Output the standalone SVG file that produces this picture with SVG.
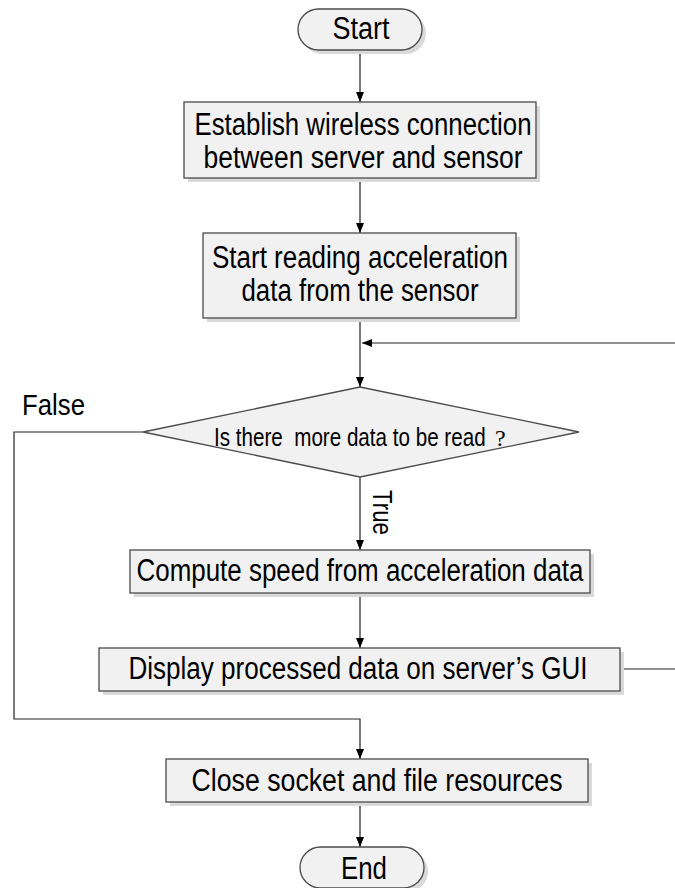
<svg xmlns="http://www.w3.org/2000/svg" width="675" height="888" viewBox="0 0 675 888">
<style>
.shape{fill:#f1f1f1;stroke:#4a4a4a;stroke-width:1.3}
.shadow{fill:#d9d9d9;stroke:none}
.t{font-family:"Liberation Sans",Arial,sans-serif;fill:#000;text-anchor:middle}
.big{font-size:31px}
.dia{font-size:25px}
.conn{fill:none;stroke:#222;stroke-width:1.2}
</style>
<defs>
<marker id="arr" markerUnits="userSpaceOnUse" markerWidth="10" markerHeight="10" refX="10" refY="5" orient="auto" viewBox="0 0 10 10">
<path d="M0,1 L10,5 L0,9 z" fill="#000"/>
</marker>
</defs>
<rect width="675" height="888" fill="#fff"/>

<g id="connectors">
<line class="conn" x1="360" y1="50" x2="360" y2="102" marker-end="url(#arr)"/>
<line class="conn" x1="360" y1="178" x2="360" y2="233" marker-end="url(#arr)"/>
<line class="conn" x1="360" y1="318" x2="360" y2="387" marker-end="url(#arr)"/>
<polyline class="conn" points="620,669 690,669 690,343 362,343" marker-end="url(#arr)"/>
<line class="conn" x1="360" y1="477" x2="360" y2="550" marker-end="url(#arr)"/>
<line class="conn" x1="360" y1="593" x2="360" y2="648" marker-end="url(#arr)"/>
<polyline class="conn" points="143,432 14,432 14,719 360,719 360,759" marker-end="url(#arr)"/>
<line class="conn" x1="360" y1="802" x2="360" y2="847" marker-end="url(#arr)"/>
<text class="t" x="22" y="415" style="font-size:30px;text-anchor:start" textLength="63" lengthAdjust="spacingAndGlyphs">False</text>
<text class="t" transform="translate(373,490) rotate(90)" style="font-size:27px;text-anchor:start" textLength="45" lengthAdjust="spacingAndGlyphs">True</text>
</g>

<g id="start">
<rect class="shadow" x="302" y="13" width="124" height="41" rx="20.5"/>
<rect class="shape" x="298" y="9" width="124" height="41" rx="20.5"/>
<text class="t big" x="361" y="39" textLength="57" lengthAdjust="spacingAndGlyphs">Start</text>
</g>

<g id="establish">
<rect class="shadow" x="188" y="106" width="352" height="76"/>
<rect class="shape" x="184" y="102" width="352" height="76"/>
<text class="t big" x="363" y="135" textLength="337" lengthAdjust="spacingAndGlyphs">Establish wireless connection</text>
<text class="t big" x="363" y="168" textLength="319" lengthAdjust="spacingAndGlyphs">between server and sensor</text>
</g>

<g id="startreading">
<rect class="shadow" x="207" y="237" width="313" height="85"/>
<rect class="shape" x="203" y="233" width="313" height="85"/>
<text class="t big" x="360" y="268" textLength="296" lengthAdjust="spacingAndGlyphs">Start reading acceleration</text>
<text class="t big" x="360" y="301" textLength="237" lengthAdjust="spacingAndGlyphs">data from the sensor</text>
</g>

<g id="decision">
<polygon class="shape" points="360,387 579,432 360,477 143,432"/>
<text class="t dia" transform="translate(214,446) scale(0.825,1)" xml:space="preserve" style="text-anchor:start">Is there  more data to be read</text>
<text class="t" x="495" y="446" style="font-family:'Liberation Serif',serif;font-size:24px;text-anchor:start">?</text>
</g>

<g id="compute">
<rect class="shadow" x="134" y="554" width="460" height="43"/>
<rect class="shape" x="130" y="550" width="460" height="43"/>
<text class="t big" x="360" y="581" textLength="447" lengthAdjust="spacingAndGlyphs">Compute speed from acceleration data</text>
</g>

<g id="display">
<rect class="shadow" x="103" y="652" width="521" height="43"/>
<rect class="shape" x="99" y="648" width="521" height="43"/>
<text class="t big" x="358" y="679" textLength="459" lengthAdjust="spacingAndGlyphs">Display processed data on server’s GUI</text>
</g>

<g id="close">
<rect class="shadow" x="170" y="763" width="422" height="43"/>
<rect class="shape" x="166" y="759" width="422" height="43"/>
<text class="t big" x="377" y="791" textLength="371" lengthAdjust="spacingAndGlyphs">Close socket and file resources</text>
</g>

<g id="end">
<rect class="shadow" x="304" y="851" width="124" height="41" rx="20.5"/>
<rect class="shape" x="300" y="847" width="124" height="41" rx="20.5"/>
<text class="t big" x="364" y="879" textLength="46" lengthAdjust="spacingAndGlyphs">End</text>
</g>
</svg>
